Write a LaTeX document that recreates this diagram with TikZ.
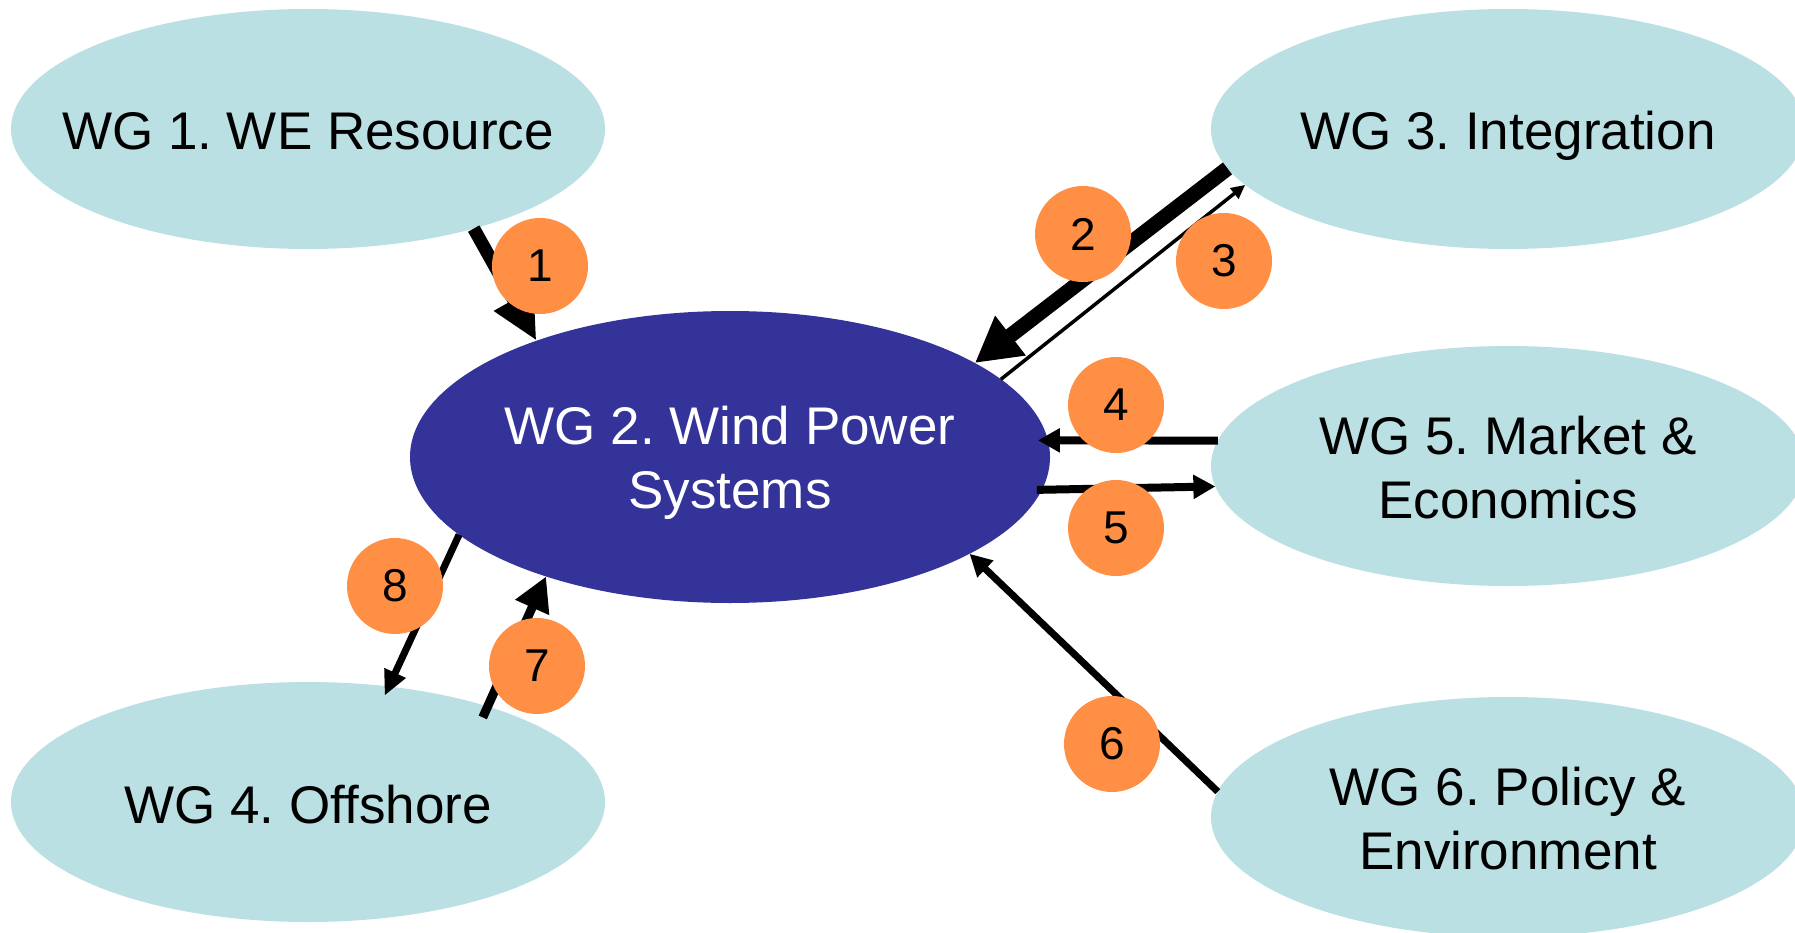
\documentclass[tikz,border=0pt]{standalone}
\usepackage{fontspec}
\setmainfont{Liberation Sans}
\usetikzlibrary{shapes.geometric,arrows.meta}
\definecolor{wglight}{HTML}{BBE0E3}
\definecolor{wgdark}{HTML}{333399}
\definecolor{numorange}{HTML}{FF8F45}
\frenchspacing
\begin{document}
\begin{tikzpicture}[x=1pt,y=-1pt,
  wgell/.style={ellipse, fill=wglight, inner sep=0pt, outer sep=0pt, minimum width=594pt, minimum height=240pt},
  wgtext/.style={font=\fontsize{53}{64}\selectfont\frenchspacing, align=center, inner sep=0pt},
  numc/.style={circle, fill=numorange, minimum size=96pt, inner sep=0pt, font=\fontsize{46}{54}\selectfont},
  link/.style={draw=black}]
\useasboundingbox (0,0) rectangle (1795,933);
\clip (0,0) rectangle (1795,933);
% working-group ellipses
\node[wgell] (wg1) at (308,129) {};
\node[wgell] (wg3) at (1508,129) {};
\node[wgell] (wg5) at (1508,466) {};
\node[wgell] (wg6) at (1508,817) {};
\node[wgell] (wg4) at (308,802) {};
\node[wgell, fill=wgdark, minimum width=640pt, minimum height=292pt] (wg2) at (730,457) {};
% labels
\node[wgtext, text height=38pt, text depth=0pt, yshift=-2pt] (t1) at (wg1) {WG 1. WE Resource};
\node[wgtext, text height=38pt, text depth=0pt, yshift=-2pt] (t3) at (wg3) {WG 3. Integration};
\node[wgtext, text height=38pt, text depth=0pt, yshift=-2pt] (t4) at (wg4) {WG 4. Offshore};
\node[wgtext, text=white, yshift=-6pt] (t2) at (wg2) {WG 2. Wind Power\\Systems};
\node[wgtext, yshift=-2pt] (t5) at (wg5) {WG 5. Market \&\\Economics};
\node[wgtext, yshift=-2pt] (t6) at (wg6) {WG 6. Policy \&\\Environment};
% connectors
\draw[link, line width=13pt, -{Triangle[length=47pt,width=42pt]}] (wg1.-31.8) -- (wg2.149.6);
\draw[link, line width=15pt, -{Triangle[length=45pt,width=47pt]}] (wg3.188.3) -- (wg2.21.6);
\draw[link, line width=3.5pt, -{Triangle[length=14pt,width=13pt]}] (wg2.16.2) -- (wg3.192.9);
\draw[link, line width=8pt, -{Triangle[length=22pt,width=23pt]}, shorten >=-10pt] (wg5.175.2) -- (wg2.3);
\draw[link, line width=8pt, -{Triangle[length=22pt,width=23pt]}, shorten <=-5pt] (wg2.-6.2) -- (wg5.184.6);
\draw[link, line width=7pt, -{Triangle[length=22pt,width=22pt]}] (wg6.175.7) -- (wg2.-22);
\draw[link, line width=9pt, -{Triangle[length=34pt,width=35pt]}, shorten <=-12pt] (wg4.28) -- (wg2.213.1);
\draw[link, line width=7pt, -{Triangle[length=25pt,width=22pt]}, shorten >=-10pt] (wg2.196.6) -- (wg4.55.6);
% number badges
\node[numc] (n1) at (540,266) {1};
\node[numc] (n2) at (1083,234) {2};
\node[numc] (n3) at (1224,261) {3};
\node[numc] (n4) at (1116,405) {4};
\node[numc] (n5) at (1116,528) {5};
\node[numc] (n6) at (1112,744) {6};
\node[numc] (n7) at (537,666) {7};
\node[numc] (n8) at (395,586) {8};
\end{tikzpicture}
\end{document}
